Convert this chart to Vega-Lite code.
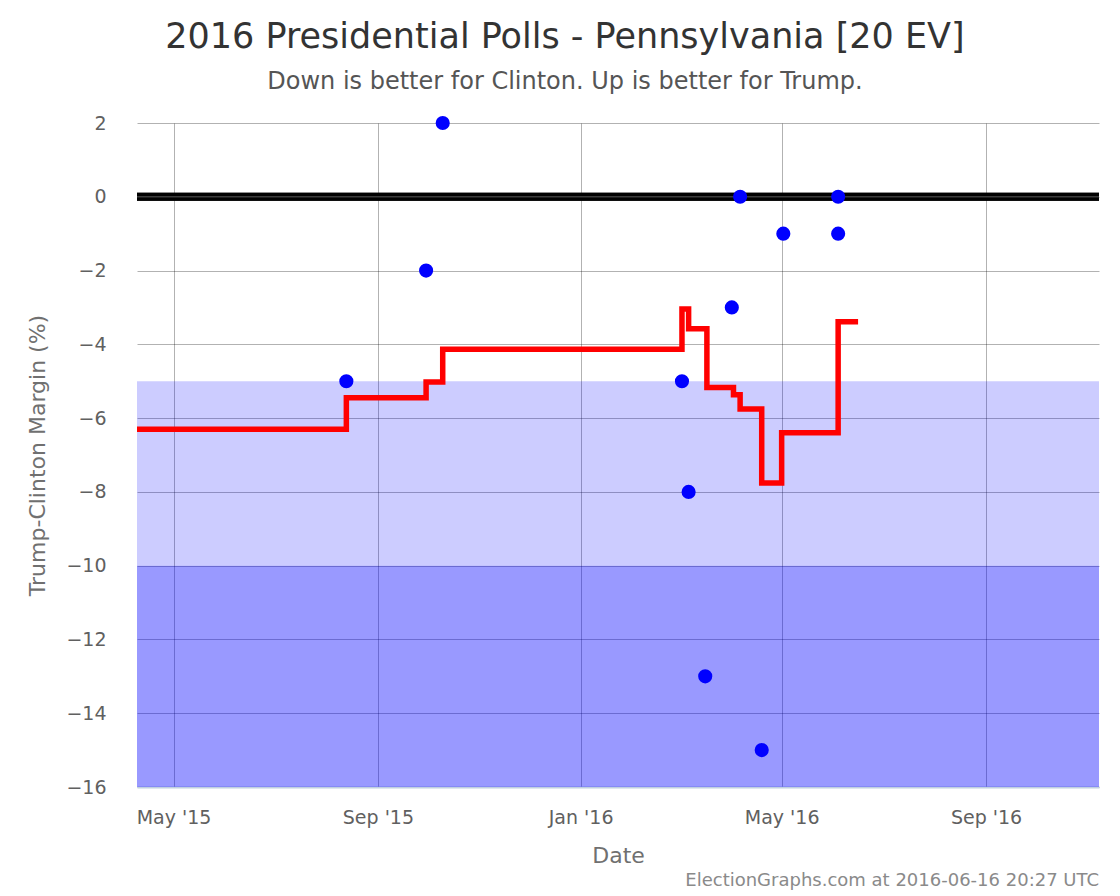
{
  "$schema": "https://vega.github.io/schema/vega-lite/v6.json",
  "padding": {"left": 26, "top": 20, "right": 20, "bottom": 8},
  "background": "white",
  "title": {
    "text": "2016 Presidential Polls - Pennsylvania [20 EV]",
    "subtitle": "Down is better for Clinton. Up is better for Trump.",
    "font": "DejaVu Sans",
    "fontSize": 35,
    "fontWeight": "normal",
    "color": "#333333",
    "subtitleFont": "DejaVu Sans",
    "subtitleFontSize": 24,
    "subtitleColor": "#555555",
    "subtitlePadding": 15,
    "offset": 20,
    "anchor": "middle",
    "frame": "bounds"
  },
  "datasets": {
    "bands": [
      {"lo": -5, "hi": -10, "shade": "light"},
      {"lo": -10, "hi": -16, "shade": "dark"}
    ],
    "polls": [
      {"date": "2015-08-13", "margin": -5},
      {"date": "2015-09-30", "margin": -2},
      {"date": "2015-10-10", "margin": 2},
      {"date": "2016-03-02", "margin": -5},
      {"date": "2016-03-06", "margin": -8},
      {"date": "2016-03-16", "margin": -13},
      {"date": "2016-04-01", "margin": -3},
      {"date": "2016-04-06", "margin": 0},
      {"date": "2016-04-19", "margin": -15},
      {"date": "2016-05-02", "margin": -1},
      {"date": "2016-06-04", "margin": 0},
      {"date": "2016-06-04", "margin": -1}
    ],
    "avg": [
      {"date": "2015-04-09", "margin": -6.3},
      {"date": "2015-08-13", "margin": -5.45},
      {"date": "2015-09-30", "margin": -5.02},
      {"date": "2015-10-10", "margin": -4.13},
      {"date": "2016-03-02", "margin": -3.04},
      {"date": "2016-03-06", "margin": -3.58},
      {"date": "2016-03-17", "margin": -5.17},
      {"date": "2016-04-02", "margin": -5.37},
      {"date": "2016-04-06", "margin": -5.75},
      {"date": "2016-04-19", "margin": -7.76},
      {"date": "2016-05-01", "margin": -6.4},
      {"date": "2016-06-04", "margin": -3.39},
      {"date": "2016-06-16", "margin": -3.39}
    ]
  },
  "vconcat": [
    {
      "width": 962,
      "height": 664,
      "title": {
        "text": "ElectionGraphs.com at 2016-06-16 20:27 UTC",
        "orient": "bottom",
        "anchor": "end",
        "frame": "group",
        "font": "DejaVu Sans",
        "fontSize": 18,
        "fontWeight": "normal",
        "color": "#8a8a8a",
        "offset": 6
      },
      "layer": [
        {
          "data": {"name": "bands"},
          "mark": {"type": "rect", "color": "#0000ff"},
          "encoding": {
            "y": {"field": "lo", "type": "quantitative", "title": "Trump-Clinton Margin (%)",
                  "scale": {"domain": [-16, 2], "nice": false, "zero": false},
                  "axis": {"values": [-16, -14, -12, -10, -8, -6, -4, -2, 0, 2]}},
            "y2": {"field": "hi"},
            "opacity": {"field": "shade", "type": "nominal",
                        "scale": {"domain": ["light", "dark"], "range": [0.2, 0.4]}, "legend": null}
          }
        },
        {
          "data": {"name": "bands"},
          "mark": {"type": "rule", "color": "#000000", "strokeWidth": 8},
          "encoding": {"y": {"datum": 0, "type": "quantitative", "title": "Trump-Clinton Margin (%)"}}
        },
        {
          "data": {"name": "bands"},
          "mark": {"type": "rule", "color": "#404040", "strokeWidth": 1},
          "encoding": {"y": {"datum": 0, "type": "quantitative", "title": "Trump-Clinton Margin (%)"}}
        },
        {
          "data": {"name": "avg"},
          "mark": {"type": "line", "interpolate": "step-after", "color": "#ff0000", "strokeWidth": 5.5},
          "encoding": {
            "x": {"field": "date", "type": "temporal", "title": "Date",
                  "scale": {"type": "utc", "domain": [{"year": 2015, "month": 4, "date": 9, "utc": true}, {"year": 2016, "month": 11, "date": 8, "utc": true}]},
                  "axis": {"format": "%b '%y", "tickCount": {"interval": "month", "step": 4}}},
            "y": {"field": "margin", "type": "quantitative", "title": "Trump-Clinton Margin (%)"}
          }
        },
        {
          "data": {"name": "polls"},
          "mark": {"type": "circle", "color": "#0000ff", "opacity": 1, "size": 200},
          "encoding": {
            "x": {"field": "date", "type": "temporal", "title": "Date"},
            "y": {"field": "margin", "type": "quantitative", "title": "Trump-Clinton Margin (%)"}
          }
        }
      ]
    }
  ],
  "config": {
    "view": {"stroke": null},
    "axis": {
      "labelFont": "DejaVu Sans",
      "labelFontSize": 19,
      "labelColor": "#606060",
      "titleFont": "DejaVu Sans",
      "titleFontSize": 22,
      "titleFontWeight": "normal",
      "titleColor": "#707070",
      "gridColor": "#000000",
      "gridOpacity": 0.3,
      "ticks": false,
      "tickSize": 0,
      "domain": false
    },
    "axisX": {"domain": true, "domainColor": "#C0D0E0", "domainWidth": 2, "labelPadding": 21, "titlePadding": 18},
    "axisY": {"labelPadding": 31, "titlePadding": 16}
  }
}
